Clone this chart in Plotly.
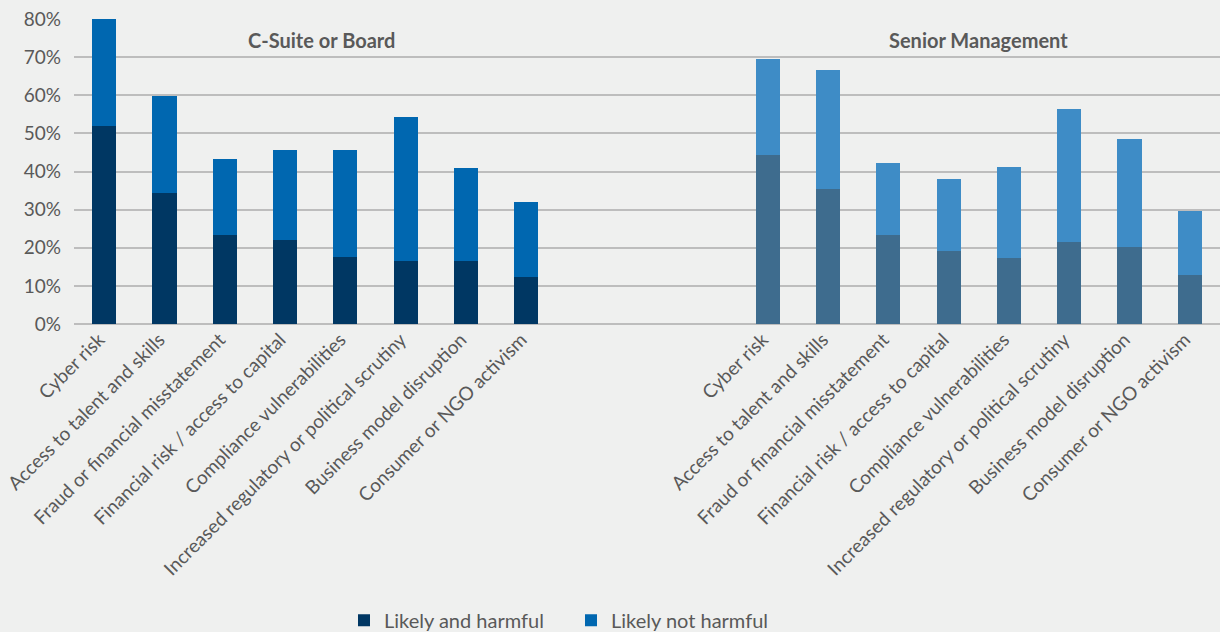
import plotly.graph_objects as go

risks = [
    "Cyber risk",
    "Access to talent and skills",
    "Fraud or financial misstatement",
    "Financial risk / access to capital",
    "Compliance vulnerabilities",
    "Increased regulatory or political scrutiny",
    "Business model disruption",
    "Consumer or NGO activism",
]
groups = ["C-Suite or Board", "Senior Management"]

csuite_total = [80.0, 59.8, 43.2, 45.6, 45.6, 54.3, 41.0, 31.9]
csuite_harmful = [52.0, 34.3, 23.3, 22.0, 17.7, 16.4, 16.4, 12.2]
senior_total = [69.6, 66.7, 42.2, 38.1, 41.2, 56.5, 48.6, 29.7]
senior_harmful = [44.4, 35.5, 23.4, 19.2, 17.4, 21.6, 20.3, 12.9]

csuite_not = [t - h for t, h in zip(csuite_total, csuite_harmful)]
senior_not = [t - h for t, h in zip(senior_total, senior_harmful)]

series_names = ["Likely and harmful", "Likely not harmful"]
y_ticks = [0, 10, 20, 30, 40, 50, 60, 70, 80]
y_tick_text = [f"{v}%" for v in y_ticks]

# x slots: group 1 at 0..7, gap of 3 slots, group 2 at 11..18
x_c = list(range(len(risks)))
x_s = [i + len(risks) + 3 for i in range(len(risks))]

C_DARK = "#003763"
C_LIGHT = "#0067b0"
S_DARK = "#3e6c8e"
S_LIGHT = "#3e8cc6"
TXT = "#595959"
BG = "#eff0ef"
FONT = "Lato, 'Noto Sans', sans-serif"

fig = go.Figure()
fig.add_trace(go.Bar(x=x_c, y=csuite_harmful, name=series_names[0], marker_color=C_DARK,
                     width=0.4, legendgroup="a", marker_line_width=0))
fig.add_trace(go.Bar(x=x_c, y=csuite_not, name=series_names[1], marker_color=C_LIGHT,
                     width=0.4, legendgroup="b", marker_line_width=0))
fig.add_trace(go.Bar(x=x_s, y=senior_harmful, name=series_names[0], marker_color=S_DARK,
                     width=0.4, showlegend=False, legendgroup="a", marker_line_width=0))
fig.add_trace(go.Bar(x=x_s, y=senior_not, name=series_names[1], marker_color=S_LIGHT,
                     width=0.4, showlegend=False, legendgroup="b", marker_line_width=0))

fig.update_layout(
    barmode="stack",
    width=1220, height=632,
    paper_bgcolor=BG, plot_bgcolor=BG,
    margin=dict(l=74, r=0, t=19, b=308, autoexpand=False),
    font=dict(family=FONT, color=TXT, size=17),
    showlegend=True,
    legend=dict(orientation="h", x=0.2356, xanchor="left", y=-1.035, yanchor="bottom",
                font=dict(size=20, color=TXT), bgcolor="rgba(0,0,0,0)",
                traceorder="normal", itemwidth=30,
                entrywidth=182, entrywidthmode="pixels"),
)
fig.update_xaxes(
    range=[-0.5, x_s[-1] + 0.5],
    tickmode="array", tickvals=x_c + x_s, ticktext=risks + risks,
    tickangle=-45, showgrid=False, ticks="", zeroline=False,
    tickfont=dict(size=19, color=TXT), showline=False, ticklabelshift=-5,
)
fig.update_yaxes(
    range=[0, 80], tickmode="array", tickvals=y_ticks, ticktext=y_tick_text,
    showgrid=True, gridcolor="#bdbdbd", gridwidth=1.5,
    zeroline=True, zerolinecolor="#bdbdbd", zerolinewidth=1.5,
    tickfont=dict(size=19, color=TXT), ticks="", ticklabelstandoff=12,
)

fig.add_annotation(x=3.6, y=74.5, xref="x", yref="y", text="<b>" + groups[0] + "</b>",
                   showarrow=False, font=dict(size=20, color=TXT))
fig.add_annotation(x=14.5, y=74.5, xref="x", yref="y", text="<b>" + groups[1] + "</b>",
                   showarrow=False, font=dict(size=20, color=TXT))

fig.write_html("out.html", config={"displayModeBar": False},
               post_script="document.body.style.margin='0';")
